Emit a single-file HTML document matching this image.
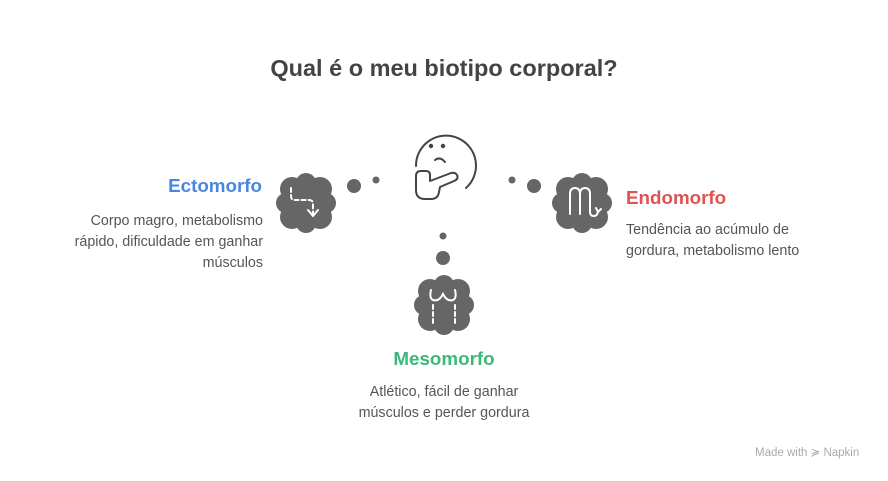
<!DOCTYPE html>
<html><head><meta charset="utf-8"><style>
body{margin:0;width:888px;height:481px;background:#fff;font-family:"Liberation Sans",Arial,sans-serif;position:relative;overflow:hidden}
.t{position:absolute;white-space:nowrap}
h1{position:absolute;top:55px;left:0;width:888px;text-align:center;margin:0;font-size:23.5px;font-weight:bold;color:#444}
.d{position:absolute;font-size:14.3px;color:#555;line-height:21px}
.h{position:absolute;font-size:18.8px;font-weight:bold}
</style></head><body>
<h1>Qual é o meu biotipo corporal?</h1>
<div class="h" style="right:626px;top:175px;color:#4A86E0">Ectomorfo</div>
<div class="d" style="right:625px;top:211px;text-align:right">Corpo magro, metabolismo<br>rápido, dificuldade em ganhar<br>músculos</div>
<div class="h" style="left:626px;top:187px;color:#E05252">Endomorfo</div>
<div class="d" style="left:626px;top:220px">Tendência ao acúmulo de<br>gordura, metabolismo lento</div>
<div class="h" style="left:0;width:888px;text-align:center;top:348px;color:#3CB878">Mesomorfo</div>
<div class="d" style="left:0;width:888px;text-align:center;top:382px">Atlético, fácil de ganhar<br>músculos e perder gordura</div>
<div class="t" style="left:755px;top:445px;font-size:11.5px;color:#aaa">Made with ≽ Napkin</div>
<svg width="888" height="481" style="position:absolute;left:0;top:0">
<defs><g id="c"><circle cx="0" cy="0" r="24"/><circle cx="-14" cy="-14" r="12"/><circle cx="14" cy="-14" r="12"/><circle cx="-14" cy="14" r="12"/><circle cx="14" cy="14" r="12"/><circle cx="-20" cy="0" r="10"/><circle cx="20" cy="0" r="10"/><circle cx="0" cy="-20" r="10"/><circle cx="0" cy="20" r="10"/></g></defs>
<g fill="#666">
<circle cx="354" cy="186" r="7"/><circle cx="376" cy="180" r="3.5"/>
<circle cx="534" cy="186" r="7"/><circle cx="512" cy="180" r="3.5"/>
<circle cx="443" cy="236" r="3.5"/><circle cx="443" cy="258" r="7"/>
<use href="#c" x="306" y="203"/><use href="#c" x="582" y="203"/><use href="#c" x="444" y="305"/>
</g>
<g fill="none" stroke="#fff" stroke-width="2" stroke-linecap="round">
<path d="M291 188 v8 q0 4 4 4 h14 q4 0 4 4 v10" stroke-dasharray="4 3"/>
<path d="M308 210 l5 6 l5 -6"/>
<path d="M570 214 v-20 q0 -6 5 -6 q5 0 5 6 v20 M580 194 q0 -6 5 -6 q5 0 5 6 v18 q0 4 4 4 q3 0 4 -4 M596 208 l2 4 l3 -3"/>
<path d="M431 290 q-2 8 2 10 q6 2 10 -6 q4 8 10 6 q4 -2 2 -10"/>
<path d="M433 305 v18 M455 305 v18" stroke-dasharray="4 3"/>
</g>
<g fill="none" stroke="#444" stroke-width="2" stroke-linecap="round" stroke-linejoin="round">
<path d="M416 166 A30 30 0 1 1 466 188"/>
<circle cx="431" cy="146" r="1.2" fill="#444"/><circle cx="443" cy="146" r="1.2" fill="#444"/>
<path d="M435 160 q5 -4 10 2"/>
<path d="M421 171 q-5 0 -5 5 v14 q0 9 9 9 h6 q7 0 8 -7 l1 -5 l14 -6 q5 -2 3 -6 q-2 -3 -6 -2 l-21 8 v-6 q0 -4 -4 -4 z"/>
</g>
</svg>
</body></html>
